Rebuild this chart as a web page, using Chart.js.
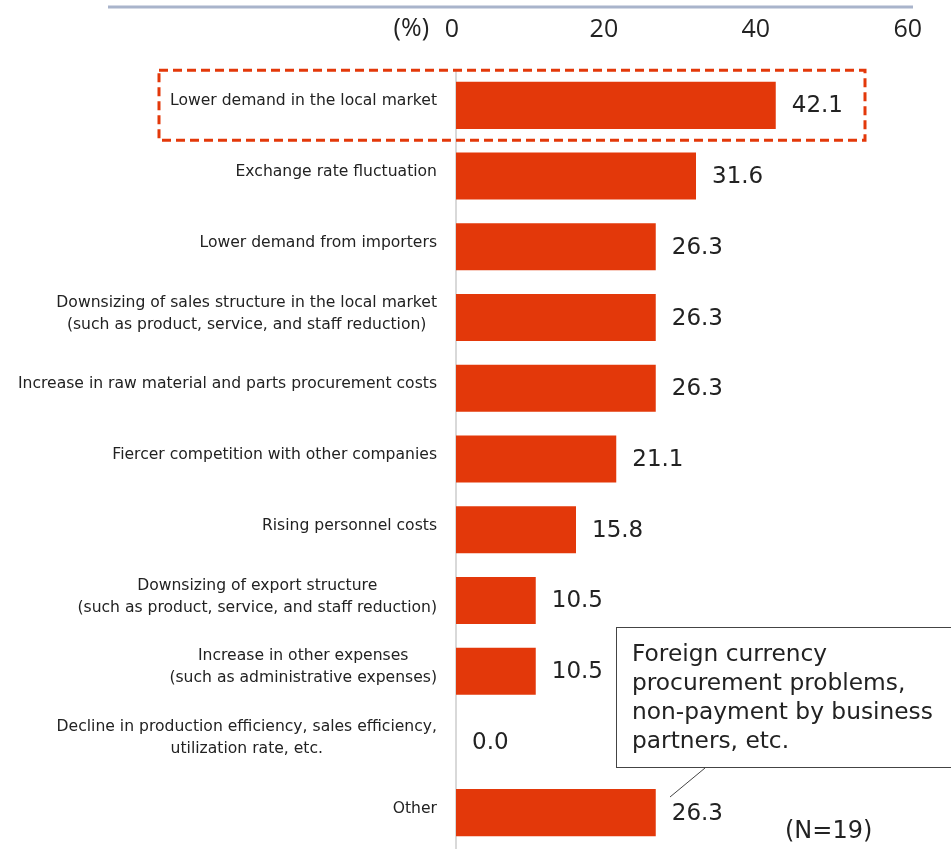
<!DOCTYPE html>
<html>
<head>
<meta charset="utf-8">
<script src="https://cdn.jsdelivr.net/npm/chart.js@4"></script>
<style>
  body { margin: 0; background: #fff; }
  #wrap { width: 951px; height: 851px; }
</style>
</head>
<body>
<div id="wrap"><canvas id="grafica" width="951" height="851"></canvas></div>
<script>
// categorias (multilinea) y valores en %
const categorias = [
    ['Lower demand in the local market'],
    ['Exchange rate fluctuation'],
    ['Lower demand from importers'],
    ['Downsizing of sales structure in the local market', '(such as product, service, and staff reduction)'],
    ['Increase in raw material and parts procurement costs'],
    ['Fiercer competition with other companies'],
    ['Rising personnel costs'],
    ['Downsizing of export structure', '(such as product, service, and staff reduction)'],
    ['Increase in other expenses', '(such as administrative expenses)'],
    ['Decline in production efficiency, sales efficiency,', 'utilization rate, etc.'],
    ['Other']
];
const valores = [42.1, 31.6, 26.3, 26.3, 26.3, 21.1, 15.8, 10.5, 10.5, 0.0, 26.3];
const ticksX = [0, 20, 40, 60];
const notaOtros = ['Foreign currency', 'procurement problems,', 'non-payment by business', 'partners, etc.'];
const muestra = '(N=19)';

const rojo = '#e3380a';

const extras = {
    id: 'extras',
    afterDraw(chart) {
        const ctx = chart.ctx;
        const x = chart.scales.x;
        const y = chart.scales.y;
        ctx.save();

        // linea superior
        ctx.strokeStyle = '#a9b4cb';
        ctx.lineWidth = 3;
        ctx.beginPath();
        ctx.moveTo(108, 7);
        ctx.lineTo(913, 7);
        ctx.stroke();

        // (%)
        ctx.fillStyle = '#222';
        ctx.font = '25px "Open Sans"';
        ctx.textAlign = 'right';
        ctx.textBaseline = 'middle';
        ctx.fillText('(%)', 429, 29);

        // etiquetas de categoria: bloque alineado a la derecha, lineas centradas entre si
        ctx.font = '15.6px "DejaVu Sans"';
        ctx.textAlign = 'center';
        const derecha = y.right - 19;
        categorias.forEach((lineas, i) => {
            const ancho = Math.max(...lineas.map(l => ctx.measureText(l).width));
            const cx = derecha - ancho / 2;
            const cy = y.getPixelForValue(i) - 4 - (lineas.length - 1) * 11;
            lineas.forEach((l, j) => ctx.fillText(l, cx, cy + j * 22));
        });

        // valores
        ctx.font = '23px "DejaVu Sans"';
        ctx.textAlign = 'left';
        valores.forEach((v, i) => {
            ctx.fillText(v.toFixed(1), x.getPixelForValue(v) + 16, y.getPixelForValue(i) + 1);
        });

        // recuadro punteado en la primera categoria
        ctx.strokeStyle = rojo;
        ctx.lineWidth = 3;
        ctx.setLineDash([9, 5]);
        const y0 = y.getPixelForValue(0);
        ctx.strokeRect(159, y0 - 35, 706, 70);
        ctx.setLineDash([]);

        // nota de "Other"
        ctx.fillStyle = '#fff';
        ctx.fillRect(616, 627, 340, 140);
        ctx.strokeStyle = '#444';
        ctx.lineWidth = 1;
        ctx.strokeRect(616.5, 627.5, 340, 140);
        ctx.beginPath();
        ctx.moveTo(705, 768);
        ctx.lineTo(670, 797);
        ctx.stroke();
        ctx.fillStyle = '#222';
        ctx.font = '23.3px "DejaVu Sans"';
        notaOtros.forEach((t, i) => ctx.fillText(t, 632, 655 + i * 29));

        // N
        ctx.font = '24px "DejaVu Sans"';
        ctx.fillText(muestra, 785, 832);
        ctx.restore();
    }
};

const ctx = document.getElementById('grafica').getContext('2d');
const myChart = new Chart(ctx, {
    type: 'bar',
    data: {
        labels: categorias,
        datasets: [{
            data: valores,
            backgroundColor: rojo,
            categoryPercentage: 1,
            barPercentage: 0.665
        }]
    },
    options: {
        indexAxis: 'y',
        responsive: false,
        animation: false,
        layout: { padding: { top: 0, right: 39, bottom: 3, left: 0 } },
        plugins: {
            legend: { display: false },
            tooltip: { enabled: false }
        },
        scales: {
            x: {
                position: 'top',
                min: 0,
                max: 60,
                afterBuildTicks: scale => { scale.ticks = ticksX.map(v => ({ value: v })); },
                afterFit: scale => { scale.height = 70; },
                grid: { display: false, drawTicks: false },
                border: { display: false },
                ticks: {
                    padding: 25,
                    labelOffset: -4,
                    color: '#222',
                    font: { family: 'Open Sans', size: 25 }
                }
            },
            y: {
                afterFit: scale => {
                    scale.width = 456;
                    scale.paddingTop = 0;
                    scale.paddingBottom = 0;
                },
                grid: { display: false, drawTicks: false },
                border: { display: true, color: '#d9d9d9', width: 2 },
                ticks: { display: false }
            }
        }
    },
    plugins: [extras]
});
</script>
</body>
</html>
